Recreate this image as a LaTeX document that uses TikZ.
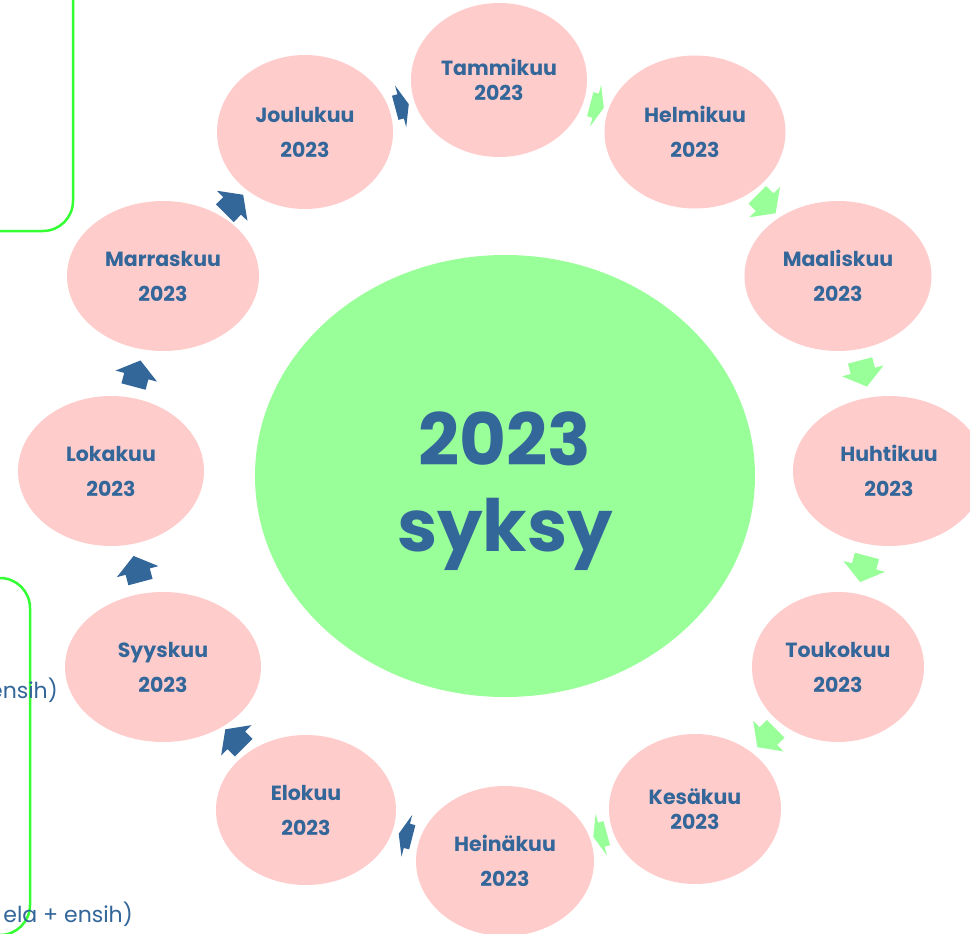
\documentclass[tikz,border=0pt]{standalone}
\usepackage{fontspec}
\setmainfont{Poppins}
\usetikzlibrary{shapes.geometric,calc}
\definecolor{cpink}{HTML}{FFCCCC}
\definecolor{cgreen}{HTML}{99FF99}
\definecolor{cblue}{HTML}{336699}
\definecolor{cline}{HTML}{33FF33}
\tikzset{
  pics/cyc/.style={code={
    \fill[pic actions] ({-#1/2},-12.5) -- ({-#1/2+0.4*#1},-12.5) -- ({-#1/2+0.4*#1},-21.5)
      -- ({#1/2},0) -- ({-#1/2+0.4*#1},21.5) -- ({-#1/2+0.4*#1},12.5) -- ({-#1/2},12.5) -- cycle;
  }},
  month/.style={ellipse, fill=cpink, inner sep=0, text=cblue,
    font=\bfseries\fontsize{20.5}{35}\selectfont, align=center},
  tight/.style={font=\bfseries\fontsize{20.5}{25}\selectfont},
  sidebox/.style={draw=cline, line width=2.5pt, rounded corners=30},
  sidetext/.style={anchor=base east, inner sep=0, text=cblue, font=\fontsize{22}{26}\selectfont}
}
\newcommand\cyarr[4]{%
  \path let \p1=($(#2)-(#1)$), \n1={atan2(\y1,\x1)} in
    ($(#1)!0.5!(#2)$) pic[rotate=\n1, fill=#3] {cyc=#4};}
\begin{document}
\begin{tikzpicture}[x=1pt,y=-1pt]
\useasboundingbox (0,0) rectangle (970,934);
\clip (0,0) rectangle (970,934);
\fill[white] (0,0) rectangle (970,934);
% side boxes
\draw[sidebox] (-60,-60) rectangle (73,231);
\draw[sidebox] (-60,578) rectangle (30,935);
\node[sidetext] (t1) at (58,698) {ensih)};
\node[sidetext] (t2) at (133,922) {ela + ensih)};
% centre
\node[ellipse, fill=cgreen, minimum width=500, minimum height=442, inner sep=0] (yr) at (505,476) {};
\node[text=cblue, inner sep=0, font=\bfseries\fontsize{72}{86}\selectfont, align=center] (yrt) at (505,491) {2023\\syksy};
% months
\node[month, tight, minimum width=176, minimum height=154] (tam) at (499,80) {Tammikuu\\2023};
\node[month, minimum width=181, minimum height=153] (hel) at (695,132) {Helmikuu\\2023};
\node[month, minimum width=187, minimum height=150] (maa) at (838,276) {Maaliskuu\\2023};
\node[month, minimum width=192, minimum height=150] (huh) at (889,471) {Huhtikuu\\2023};
\node[month, minimum width=172, minimum height=150] (tou) at (838,667) {Toukokuu\\2023};
\node[month, tight, minimum width=172, minimum height=150] (kes) at (695,809) {Kesäkuu\\2023};
\node[month, minimum width=178, minimum height=150] (hei) at (505,861) {Heinäkuu\\2023};
\node[month, minimum width=180, minimum height=150] (elo) at (306,810) {Elokuu\\2023};
\node[month, minimum width=196, minimum height=150] (syy) at (163,667) {Syyskuu\\2023};
\node[month, minimum width=186, minimum height=150] (lok) at (111,471) {Lokakuu\\2023};
\node[month, minimum width=192, minimum height=150] (mar) at (163,276) {Marraskuu\\2023};
\node[month, minimum width=176, minimum height=154] (jou) at (305,132) {Joulukuu\\2023};
% arrows
\cyarr{jou}{tam}{cblue}{14}
\cyarr{tam}{hel}{cgreen}{14}
\cyarr{hel}{maa}{cgreen}{26}
\cyarr{maa}{huh}{cgreen}{27}
\cyarr{huh}{tou}{cgreen}{27}
\cyarr{tou}{kes}{cgreen}{26}
\cyarr{kes}{hei}{cgreen}{14}
\cyarr{hei}{elo}{cblue}{14}
\cyarr{elo}{syy}{cblue}{26}
\cyarr{syy}{lok}{cblue}{27}
\cyarr{lok}{mar}{cblue}{27}
\cyarr{mar}{jou}{cblue}{26}
\end{tikzpicture}
\end{document}
